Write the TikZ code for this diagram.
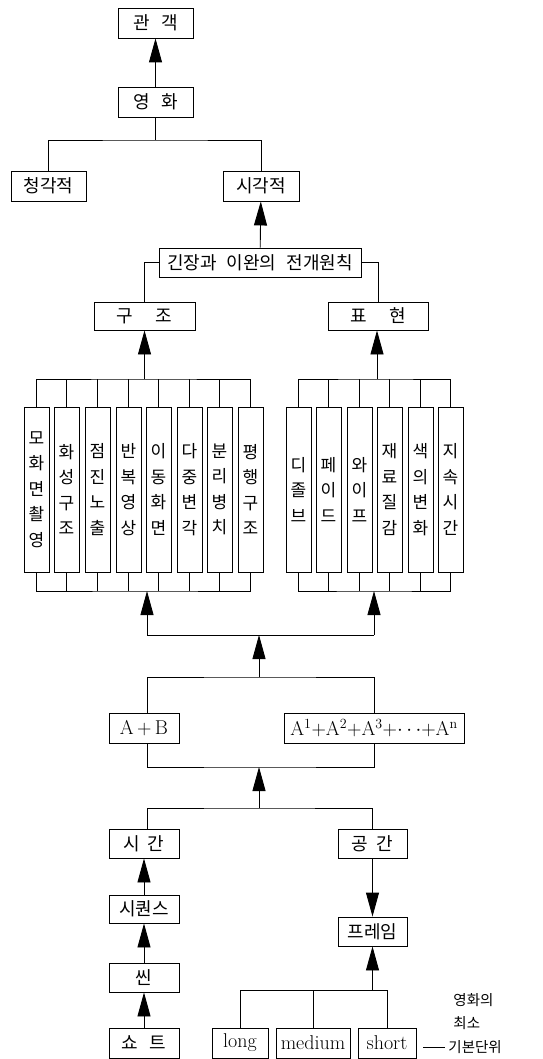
\documentclass[tikz,border=0pt]{standalone}
\usepackage{fontspec}
\newfontfamily\kr{Noto Sans CJK KR}
\usetikzlibrary{arrows.meta}
\begin{document}
\begin{tikzpicture}[x=1pt,y=-1pt,
  line width=0.9pt,
  bx/.style={draw, inner sep=0pt, minimum height=30pt, font=\kr\fontsize{18}{20}\selectfont},
  lat/.style={draw, inner sep=0pt, minimum height=30pt, font=\fontsize{20}{22}\selectfont},
  vbx/.style={draw, inner sep=0pt, minimum width=25pt, minimum height=165pt, align=center, font=\kr\fontsize{17}{25.5}\selectfont},
  arr/.style={-{Triangle[length=24pt,width=13pt]}},
  note/.style={anchor=west, inner sep=0pt, font=\kr\fontsize{14.5}{16}\selectfont}
]
\useasboundingbox (0,0) rectangle (542,1059);

% top part
\node[bx, minimum width=75pt] (gwan) at (155.5,23) {관\hspace{11pt}객};
\node[bx, minimum width=75pt] (yh) at (155.5,102) {영\hspace{11pt}화};
\node[bx, minimum width=75pt] (chg) at (48.5,186) {청각적};
\node[bx, minimum width=76pt] (sig) at (261,186) {시각적};
\node[bx, minimum width=202pt, minimum height=29pt] (gij) at (260,262.5) {긴장과\hspace{10pt}이완의\hspace{10pt}전개원칙};
\node[bx, minimum width=101pt, minimum height=28pt] (gujo) at (144.5,316) {구\hspace{22pt}조};
\node[bx, minimum width=100pt, minimum height=28pt] (pyo) at (378,316) {표\hspace{22pt}현};

\coordinate (b1) at (155.5,140);
\draw[arr] (yh) -- (gwan);
\draw (chg.north) |- (b1) -| (sig.north);
\draw (yh.south) -- (b1);
\draw[arr] (gij) -- (sig);
\draw (gij.west) -| (gujo.north);
\draw (gij.east) -| (pyo.north);

% vertical boxes
\node[vbx] (L1) at (36.5,489.5) {모\\화\\면\\촬\\영};
\node[vbx] (L2) at (66.5,489.5) {화\\성\\구\\조};
\node[vbx] (L3) at (97.5,489.5) {점\\진\\노\\출};
\node[vbx] (L4) at (128.5,489.5) {반\\복\\영\\상};
\node[vbx] (L5) at (158.5,489.5) {이\\동\\화\\면};
\node[vbx] (L6) at (189.5,489.5) {다\\중\\변\\각};
\node[vbx] (L7) at (219.5,489.5) {분\\리\\병\\치};
\node[vbx] (L8) at (250.5,489.5) {평\\행\\구\\조};

\node[vbx] (R1) at (298.5,489.5) {디\\졸\\브};
\node[vbx] (R2) at (328.5,489.5) {페\\이\\드};
\node[vbx] (R3) at (359.5,489.5) {와\\이\\프};
\node[vbx] (R4) at (389.5,489.5) {재\\료\\질\\감};
\node[vbx] (R5) at (420.5,489.5) {색\\의\\변\\화};
\node[vbx] (R6) at (450.5,489.5) {지\\속\\시\\간};

\coordinate (lbT) at (144.5,379);
\coordinate (lbB) at (147,591);
\coordinate (rbT) at (377,379);
\coordinate (rbB) at (374,591);

\draw (L1.north) |- (lbT) -| (L8.north);
\draw (L1.south) |- (lbB) -| (L8.south);
\foreach \n in {2,...,7}{
  \draw (L\n.north) -- (L\n.north |- lbT);
  \draw (L\n.south) -- (L\n.south |- lbB);
}
\draw (R1.north) |- (rbT) -| (R6.north);
\draw (R1.south) |- (rbB) -| (R6.south);
\foreach \n in {2,...,5}{
  \draw (R\n.north) -- (R\n.north |- rbT);
  \draw (R\n.south) -- (R\n.south |- rbB);
}
\draw[arr] (lbT) -- (gujo.south);
\draw[arr] (rbT) -- (gujo.south -| rbT);

% middle part
\node[lat, minimum width=70pt] (ab) at (144,728) {A\,+\,B};
\node[lat, minimum width=180pt] (an) at (374,728) {A\textsuperscript{1}+A\textsuperscript{2}+A\textsuperscript{3}+$\cdots$+A\textsuperscript{n}};

\coordinate (m1l) at (147,635);
\coordinate (m1r) at (374,635);
\coordinate (m1c) at (259,635);
\coordinate (m2) at (259,677);
\coordinate (m3) at (259,767);
\coordinate (m4) at (259,808);

\draw[arr] (m1l) -- (lbB);
\draw[arr] (m1r) -- (rbB);
\draw (m1l) -- (m1r);
\draw[arr] (m2) -- (m1c);
\draw (ab.north -| m1l) |- (m2) -| (an.north -| m1r);
\draw (ab.south -| m1l) |- (m3) -| (an.south -| m1r);
\draw[arr] (m4) -- (m3);

% bottom part
\node[bx, minimum width=70pt, minimum height=29pt] (sigan) at (144,843.5) {시\hspace{8pt}간};
\node[bx, minimum width=69pt, minimum height=29pt] (gong) at (372.5,843.5) {공\hspace{8pt}간};
\node[bx, minimum width=70pt, minimum height=28pt] (seq) at (144,909) {시퀀스};
\node[bx, minimum width=70pt, minimum height=29pt] (scene) at (144,977.5) {씬};
\node[bx, minimum width=70pt] (shot) at (144,1043) {쇼\hspace{11pt}트};
\node[bx, minimum width=69pt, minimum height=29pt] (frame) at (372.5,931.5) {프레임};
\node[lat, minimum width=56pt] (long) at (240,1043) {long};
\node[lat, minimum width=74pt] (medium) at (313,1043) {medium};
\node[lat, minimum width=58pt] (short) at (387,1043) {short};

\draw (sigan.north -| m1l) |- (m4) -| (gong.north);
\draw[arr] (seq) -- (sigan);
\draw[arr] (scene) -- (seq);
\draw[arr] (shot) -- (scene);
\draw[arr] (gong) -- (frame);

\coordinate (fb) at (372.5,990);
\draw (long.north) |- (fb) -| (short.north);
\draw (medium.north) -- (medium.north |- fb);
\draw[arr] (fb) -- (frame.south);

% annotation
\node[note] (n1) at (453,1000) {영화의};
\node[note] (n2) at (453,1023) {최소};
\node[note] (n3) at (448,1047) {기본단위};
\coordinate (dash) at (423,1047);
\draw[line width=0.7pt] (dash) -- ([xshift=-3pt]n3.west);
\end{tikzpicture}
\end{document}
